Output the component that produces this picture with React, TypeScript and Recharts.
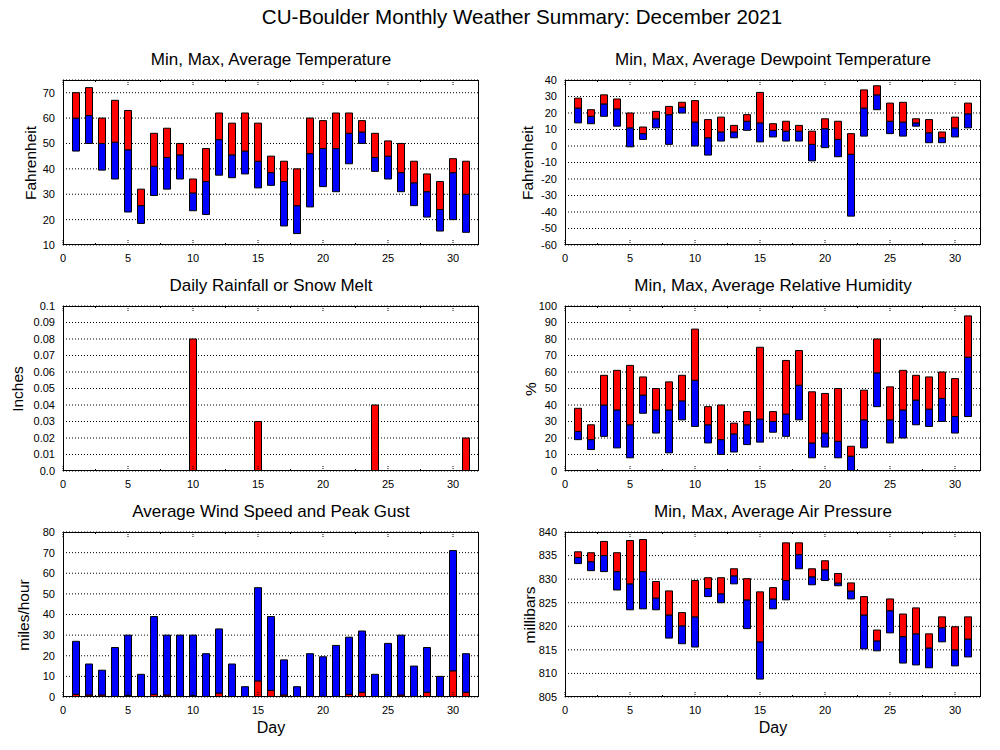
import React from "react";
import { BarChart, Bar, XAxis, YAxis, CartesianGrid } from "recharts";

// day of month, December 2021
const days = [1, 2, 3, 4, 5, 6, 7, 8, 9, 10, 11, 12, 13, 14, 15, 16, 17, 18, 19, 20, 21, 22, 23, 24, 25, 26, 27, 28, 29, 30, 31];
const dayTicks = [0, 2.5, 5, 7.5, 10, 12.5, 15, 17.5, 20, 22.5, 25, 27.5, 30];

// temperature (F)
const tempMax = [70, 72, 60, 67, 63, 32, 54, 56, 50, 36, 48, 62, 58, 62, 58, 45, 43, 40, 60, 59, 62, 62, 59, 54, 51, 50, 43, 38, 35, 44, 43];
const tempAvg = [60, 61, 50, 50.5, 47.5, 25.5, 41, 44.5, 45.5, 30.5, 35, 51.5, 45.5, 47, 43, 38.5, 35, 25.5, 46, 48, 48, 54, 54.5, 44.5, 45, 38.5, 34.5, 31, 24, 38.5, 30];
const tempMin = [47, 50, 39.5, 36, 23, 18.5, 29.5, 32, 36, 23.5, 22, 37.5, 36.5, 38, 32.5, 33.5, 17.5, 14.5, 25, 33, 31, 42, 50, 39, 36, 31, 25.5, 21, 15.5, 20, 15];
const tempTicks = [10, 20, 30, 40, 50, 60, 70];

// dewpoint (F)
const dewMax = [29, 22, 31, 28.5, 20, 11.5, 21, 24, 26.5, 27.5, 16, 17.5, 12.5, 19, 32.5, 13.5, 15, 12.5, 9, 16.5, 15, 7.5, 34, 36.5, 26, 26.5, 16.5, 16, 8.5, 17.5, 26];
const dewAvg = [23, 18, 25.5, 22.5, 11, 7.5, 16.5, 19, 23.5, 14.5, 5, 8.5, 8.5, 15, 14, 9.5, 9, 9, 1, 10.5, 4, -5, 23, 31, 15, 14.5, 14, 8, 5, 11, 19.5];
const dewMin = [14, 13.5, 18, 12, -0.5, 4, 11, 1, 20, 0, -5.5, 3, 5, 9.5, 2.5, 5.5, 3, 3, -9, -1, -6.5, -42.5, 6, 22, 7.5, 6, 12, 2, 2, 5.5, 11];
const dewTicks = [-60, -50, -40, -30, -20, -10, 0, 10, 20, 30, 40];

// rainfall / snow melt (inches)
const rain = [0, 0, 0, 0, 0, 0, 0, 0, 0, 0.08, 0, 0, 0, 0, 0.03, 0, 0, 0, 0, 0, 0, 0, 0, 0.04, 0, 0, 0, 0, 0, 0, 0.02];
const rainTicks = [0, 0.01, 0.02, 0.03, 0.04, 0.05, 0.06, 0.07, 0.08, 0.09, 0.1];

// relative humidity (%)
const rhMax = [38, 28, 58, 61, 64, 57, 50, 54, 58, 86, 39, 40, 29, 36, 75, 36, 67, 73, 48, 47, 50, 15, 49, 80, 51, 61, 58, 57, 60, 56, 94];
const rhAvg = [24, 19, 40, 37, 28, 46, 37, 37, 42.5, 55, 28, 19, 22.5, 28, 31.5, 30, 34.5, 52, 17, 23, 18, 9, 31, 59.5, 31, 37, 43, 37.5, 44, 33, 69];
const rhMin = [19, 13, 21, 14, 8, 35, 23, 11, 31, 27, 17, 10, 11.5, 16, 17.5, 23.5, 21, 31, 8, 14.5, 8, 0, 14, 39, 17, 20, 28, 27, 30, 23, 33];
const rhTicks = [0, 10, 20, 30, 40, 50, 60, 70, 80, 90, 100];

// wind (mph)
const windAvg = [1.3, 1, 1, 0.3, 0.8, 0, 1.3, 1, 0.3, 0.6, 0.3, 1.9, 0, 0, 7.8, 3.2, 1, 0, 0.3, 0.3, 0.3, 1.3, 2.3, 0, 0, 1, 0.3, 2.3, 0.3, 12.7, 2.3];
const windGust = [27, 16, 13, 24, 30, 11, 39, 30, 30, 30, 21, 33, 16, 5, 53, 39, 18, 5, 21, 19.5, 25, 29, 32, 11, 26, 30, 15, 24, 10, 71, 21];
const windTicks = [0, 10, 20, 30, 40, 50, 60, 70, 80];

// air pressure (mb)
const presMax = [835.8, 835.6, 838, 835.6, 838.2, 838.4, 829.5, 827.5, 822.9, 829.7, 830.3, 830.3, 832.2, 830.1, 827.3, 828.2, 837.7, 837.7, 832.2, 833.9, 831.2, 829.2, 826.3, 819.2, 825.8, 822.6, 823.9, 818.4, 822, 819.9, 822];
const presAvg = [834.6, 833.7, 835, 831.6, 829, 831.6, 826, 822.4, 820.1, 822, 828, 826.9, 830.7, 825.6, 816.7, 825.8, 829.7, 835.2, 830.5, 832, 829.2, 827.5, 822.4, 816.9, 823.3, 817.8, 818.4, 815.4, 819.7, 815, 817.3];
const presMin = [833.3, 831.8, 831.6, 827.7, 823.5, 823.7, 823.5, 817.5, 816.3, 815.6, 826.3, 825, 829, 819.5, 808.8, 823.7, 825.6, 832.2, 828.8, 829.7, 828.6, 825.8, 815.2, 814.8, 818.6, 812.2, 811.8, 811.2, 816.7, 811.6, 813.5];
const presTicks = [805, 810, 815, 820, 825, 830, 835, 840];

const rangeRows = (mx: number[], av: number[], mn: number[]) =>
  days.map((d, i) => ({ day: d, base: mn[i], lo: av[i] - mn[i], hi: mx[i] - av[i] }));

const tempData = rangeRows(tempMax, tempAvg, tempMin);
const dewData = rangeRows(dewMax, dewAvg, dewMin);
const rhData = rangeRows(rhMax, rhAvg, rhMin);
const presData = rangeRows(presMax, presAvg, presMin);
const rainData = days.map((d, i) => ({ day: d, rain: rain[i] }));
const windData = days.map((d, i) => ({ day: d, avg: windAvg[i], gust: windGust[i] - windAvg[i] }));

const PLOT_W = 416;
const PLOT_H = 165;
const M_TOP = 10;
const FONT = "'Liberation Sans', Arial, Helvetica, sans-serif";

function DayTick(props: any) {
  const { x, payload } = props;
  const v = payload.value;
  const major = v % 5 === 0;
  const len = major ? 5 : 2;
  const bottom = M_TOP + PLOT_H;
  return (
    <g>
      <line x1={x} x2={x} y1={bottom} y2={bottom - len} stroke="#000" strokeDasharray={major ? "1 1" : undefined} />
      <line x1={x} x2={x} y1={M_TOP} y2={M_TOP + len} stroke="#000" strokeDasharray={major ? "1 1" : undefined} />
      {major && (
        <text x={x} y={bottom + 17} textAnchor="middle" fontSize={11} fill="#000" fontFamily={FONT}>
          {v}
        </text>
      )}
    </g>
  );
}

function rangeBars() {
  return [
    <Bar key="b" dataKey="base" stackId="s" fill="none" stroke="none" isAnimationActive={false} />,
    <Bar key="l" dataKey="lo" stackId="s" fill="#0000ff" stroke="#000" isAnimationActive={false} />,
    <Bar key="h" dataKey="hi" stackId="s" fill="#ff0000" stroke="#000" isAnimationActive={false} />,
  ];
}

function Panel(props: {
  col: number;
  plotTop: number;
  title: string;
  yLabel: string;
  yLabelX: number;
  domain: [number, number];
  yTicks: number[];
  yFmt?: (v: number) => string;
  data: any[];
  children: any;
  showDay?: boolean;
}) {
  const { col, plotTop, title, yLabel, yLabelX, domain, yTicks, yFmt, data, children, showDay } = props;
  const chartLeft = col === 0 ? 0 : 500;
  const yW = col === 0 ? 63 : 65;
  const mRight = col === 0 ? 21 : 19;
  const plotLeft = chartLeft + yW;
  const cx = plotLeft + PLOT_W / 2;
  return (
    <>
      <div style={{ position: "absolute", left: plotLeft - 50, width: PLOT_W + 100, top: plotTop - 30, lineHeight: "20px", fontSize: 17, textAlign: "center" }}>
        {title}
      </div>
      <div
        style={{
          position: "absolute",
          left: yLabelX,
          top: plotTop + PLOT_H / 2,
          transform: "translate(-50%, -50%) rotate(-90deg)",
          fontSize: 15.5,
          whiteSpace: "nowrap",
          lineHeight: "18px",
        }}
      >
        {yLabel}
      </div>
      <div style={{ position: "absolute", left: chartLeft, top: plotTop - M_TOP }}>
        <BarChart
          width={500}
          height={M_TOP + PLOT_H + 30}
          data={data}
          margin={{ top: M_TOP, right: mRight, bottom: 0, left: 0 }}
          barSize={7}
          stackOffset="none"
        >
          <CartesianGrid vertical={false} stroke="#000" strokeDasharray="1 2" />
          <XAxis
            type="number"
            dataKey="day"
            domain={[0, 32]}
            ticks={dayTicks}
            interval={0}
            allowDataOverflow
            axisLine={false}
            tickLine={false}
            height={30}
            tick={<DayTick />}
          />
          <YAxis
            type="number"
            domain={domain}
            ticks={yTicks}
            interval={0}
            allowDataOverflow
            axisLine={false}
            tickLine={false}
            tickSize={6}
            tickMargin={2}
            width={yW}
            tickFormatter={yFmt}
            tick={{ fontSize: 11, fill: "#000", fontFamily: FONT }}
          />
          {children}
        </BarChart>
      </div>
      <div
        style={{
          position: "absolute",
          left: plotLeft,
          top: plotTop,
          width: PLOT_W,
          height: PLOT_H,
          border: "1px solid #000",
          boxSizing: "border-box",
          pointerEvents: "none",
        }}
      />
      {showDay && (
        <div style={{ position: "absolute", left: cx - 50, width: 100, top: 719, lineHeight: "18px", fontSize: 16, textAlign: "center" }}>
          Day
        </div>
      )}
    </>
  );
}

export default function App() {
  return (
    <div style={{ position: "absolute", left: 0, top: 0, width: 1000, height: 750, background: "#fff", fontFamily: FONT, color: "#000", overflow: "hidden" }}>
      <div style={{ position: "absolute", left: 0, width: 1044, top: 7, lineHeight: "20px", fontSize: 20.6, textAlign: "center" }}>
        CU-Boulder Monthly Weather Summary: December 2021
      </div>

      <Panel col={0} plotTop={80} title="Min, Max, Average Temperature" yLabel="Fahrenheit" yLabelX={31} domain={[10, 75]} yTicks={tempTicks} data={tempData}>
        {rangeBars()}
      </Panel>
      <Panel col={1} plotTop={80} title="Min, Max, Average Dewpoint Temperature" yLabel="Fahrenheit" yLabelX={528} domain={[-60, 40]} yTicks={dewTicks} data={dewData}>
        {rangeBars()}
      </Panel>

      <Panel
        col={0}
        plotTop={306}
        title="Daily Rainfall or Snow Melt"
        yLabel="Inches"
        yLabelX={18}
        domain={[0, 0.1]}
        yTicks={rainTicks}
        yFmt={(v: number) => (v === 0 ? "0.0" : String(v))}
        data={rainData}
      >
        {[<Bar key="r" dataKey="rain" fill="#ff0000" stroke="#000" isAnimationActive={false} />]}
      </Panel>
      <Panel col={1} plotTop={306} title="Min, Max, Average Relative Humidity" yLabel="%" yLabelX={531} domain={[0, 100]} yTicks={rhTicks} data={rhData}>
        {rangeBars()}
      </Panel>

      <Panel col={0} plotTop={532} title="Average Wind Speed and Peak Gust" yLabel="miles/hour" yLabelX={24} domain={[0, 80]} yTicks={windTicks} data={windData} showDay>
        {[
          <Bar key="a" dataKey="avg" stackId="w" fill="#ff0000" stroke="#000" isAnimationActive={false} />,
          <Bar key="g" dataKey="gust" stackId="w" fill="#0000ff" stroke="#000" isAnimationActive={false} />,
        ]}
      </Panel>
      <Panel col={1} plotTop={532} title="Min, Max, Average Air Pressure" yLabel="millibars" yLabelX={530} domain={[805, 840]} yTicks={presTicks} data={presData} showDay>
        {rangeBars()}
      </Panel>
    </div>
  );
}
